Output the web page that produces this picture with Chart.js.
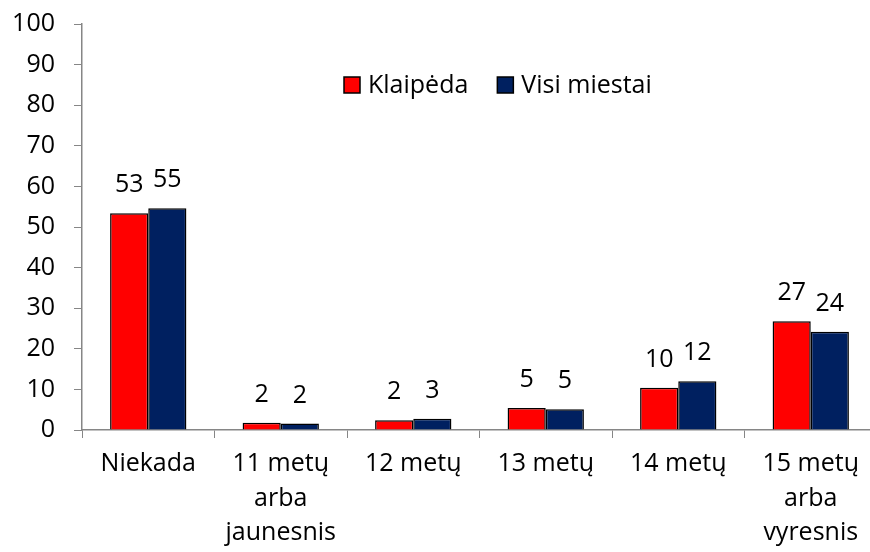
<!DOCTYPE html>
<html>
<head>
<meta charset="utf-8">
<script src="https://cdn.jsdelivr.net/npm/chart.js@4/dist/chart.umd.min.js"></script>
<style>
html,body{margin:0;padding:0;background:#fff;overflow:hidden;}
#wrap{width:880px;height:552px;}
</style>
</head>
<body>
<div id="wrap"><canvas id="c" width="880" height="552"></canvas></div>
<script>
const categories = ['Niekada', ['11 metų','arba','jaunesnis'], '12 metų', '13 metų', '14 metų', ['15 metų','arba','vyresnis']];
const seriesNames = ['Klaipėda', 'Visi miestai'];
const klaipeda = [53.4, 1.8, 2.4, 5.4, 10.4, 26.8];
const visiMiestai = [54.6, 1.6, 2.8, 5.1, 12.0, 24.2];
const yTicks = [0, 10, 20, 30, 40, 50, 60, 70, 80, 90, 100];

const FONT = '"Open Sans", sans-serif';
const AXIS = '#868686';

const valueLabels = {
  id: 'valueLabels',
  afterDatasetsDraw(chart) {
    const ctx = chart.ctx;
    ctx.save();
    ctx.font = '25px ' + FONT;
    ctx.fillStyle = '#000';
    ctx.textAlign = 'center';
    ctx.textBaseline = 'middle';
    chart.data.datasets.forEach((ds, i) => {
      chart.getDatasetMeta(i).data.forEach((el, j) => {
        ctx.fillText(String(Math.round(ds.data[j])), el.x, el.y - 28);
      });
    });
    ctx.restore();
  }
};

const insideLegend = {
  id: 'insideLegend',
  afterDraw(chart) {
    const ctx = chart.ctx;
    ctx.save();
    ctx.font = '25px ' + FONT;
    ctx.textBaseline = 'middle';
    ctx.textAlign = 'left';
    let x = 344;
    const y = 85;
    chart.data.datasets.forEach((ds) => {
      ctx.fillStyle = ds.backgroundColor;
      ctx.fillRect(x, y - 8, 16, 16);
      ctx.strokeStyle = '#000';
      ctx.lineWidth = 1.5;
      ctx.strokeRect(x, y - 8, 16, 16);
      ctx.fillStyle = '#000';
      ctx.fillText(ds.label, x + 24, y + 1);
      x += 24 + ctx.measureText(ds.label).width + 29;
    });
    ctx.restore();
  }
};

new Chart(document.getElementById('c'), {
  type: 'bar',
  data: {
    labels: categories,
    datasets: [
      { label: seriesNames[0], data: klaipeda, backgroundColor: '#FF0000', borderColor: '#000', borderWidth: 1.5, categoryPercentage: 0.576, barPercentage: 1 },
      { label: seriesNames[1], data: visiMiestai, backgroundColor: '#002060', borderColor: '#000', borderWidth: 1.5, categoryPercentage: 0.576, barPercentage: 1 }
    ]
  },
  options: {
    responsive: false,
    animation: false,
    layout: { padding: { top: 0, right: 3, left: 0, bottom: 0 } },
    plugins: { legend: { display: false }, tooltip: { enabled: false } },
    scales: {
      x: {
        grid: { drawOnChartArea: false, drawTicks: true, tickLength: 8, color: AXIS, offset: true },
        border: { color: AXIS, width: 1.5 },
        ticks: { color: '#000', font: { family: FONT, size: 25, lineHeight: 1.38 }, padding: 9, maxRotation: 0, autoSkip: false },
        afterFit(s) { s.height = 122; }
      },
      y: {
        min: 0, max: 100,
        afterBuildTicks(s) { s.ticks = yTicks.map(v => ({ value: v })); },
        grid: { drawOnChartArea: false, drawTicks: true, tickLength: 8, color: AXIS },
        border: { color: AXIS, width: 1.5 },
        ticks: { color: '#000', font: { family: FONT, size: 25, lineHeight: 1 }, padding: 19 },
        afterFit(s) { s.width = 82; s.paddingTop = 24; }
      }
    }
  },
  plugins: [valueLabels, insideLegend]
});
</script>
</body>
</html>
